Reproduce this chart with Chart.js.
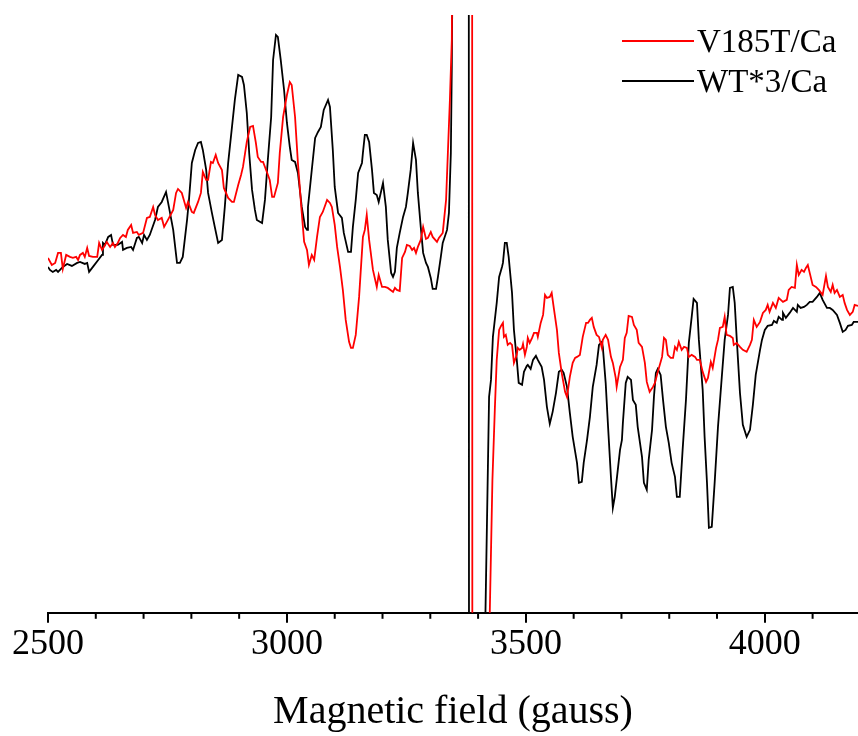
<!DOCTYPE html>
<html>
<head>
<meta charset="utf-8">
<script src="https://cdn.jsdelivr.net/npm/chart.js@4"></script>
<style>
  body { margin: 0; background: #fff; }
  #wrap { width: 858px; height: 736px; }
</style>
</head>
<body>
<div id="wrap"><canvas id="chart"></canvas></div>
<script>
// EPR spectra, field in gauss, signal in arbitrary units
const fieldV185T = [
  2500,2508,2515,2521,2527,2531,2538,2546,2552,2559,
  2563,2567,2573,2577,2582,2586,2594,2603,2607,2613,
  2617,2623,2630,2636,2640,2646,2651,2657,2663,2667,
  2674,2678,2686,2690,2699,2707,2713,2720,2724,2730,
  2738,2743,2751,2762,2768,2772,2780,2789,2793,2801,
  2805,2814,2820,2824,2831,2835,2841,2845,2851,2856,
  2864,2868,2877,2885,2889,2898,2904,2908,2916,2923,
  2929,2935,2939,2946,2950,2958,2964,2969,2973,2981,
  2985,2992,3000,3006,3010,3017,3023,3031,3036,3042,
  3046,3052,3057,3063,3069,3075,3084,3090,3094,3100,
  3105,3111,3117,3123,3130,3134,3138,3144,3151,3159,
  3163,3167,3172,3180,3188,3192,3199,3205,3211,3222,
  3226,3230,3236,3241,3247,3251,3257,3262,3266,3270,
  3274,3280,3285,3291,3295,3301,3305,3314,3318,3326,
  3333,3337,3341,3345,3348,3365,3387,3388.5,3405,3410,
  3430,3435,3439,3444,3448,3452,3454,3458,3462,3467,
  3471,3475,3481,3483,3487,3492,3494,3498,3502,3504,
  3508,3513,3517,3523,3525,3531,3536,3540,3544,3550,
  3554,3559,3565,3569,3575,3582,3586,3592,3598,3603,
  3607,3613,3619,3626,3630,3634,3638,3642,3648,3653,
  3659,3661,3667,3672,3678,3682,3688,3690,3697,3703,
  3707,3711,3715,3722,3726,3732,3736,3743,3749,3753,
  3759,3766,3770,3776,3785,3789,3793,3797,3803,3808,
  3812,3816,3820,3826,3831,3837,3841,3847,3854,3858,
  3864,3870,3877,3881,3887,3891,3898,3902,3906,3912,
  3916,3920,3927,3933,3935,3941,3948,3954,3962,3969,
  3973,3977,3983,3990,3996,4002,4006,4010,4017,4023,
  4029,4038,4046,4050,4056,4063,4067,4071,4077,4082,
  4086,4090,4096,4100,4107,4113,4121,4128,4132,4138,
  4142,4146,4151,4157,4163,4167,4172,4178,4184,4188,
  4195
];
const signalV185T = [
  2,-5,-3,7,7,-9,5,3,2,3,
  0,5,7,3,12,4,3,3,17,10,
  13,18,13,17,13,17,22,25,23,30,
  35,27,28,25,27,42,43,53,45,40,
  42,33,40,50,67,71,67,52,58,48,
  47,58,67,88,80,80,98,97,105,97,
  90,72,62,58,58,75,85,93,118,133,
  134,117,103,98,98,88,80,63,63,77,
  107,143,165,178,175,143,97,47,18,10,
  -5,5,0,23,43,48,60,57,53,35,
  13,-7,-30,-60,-82,-88,-88,-75,-37,23,
  30,45,20,-10,-27,-15,-27,-27,-28,-32,
  -28,-30,-31,2,8,15,14,10,12,7,
  13,20,33,21,22,28,23,18,22,27,
  60,110,160,220,450,1500,1200,-1200,-1500,-700,
  -220,-150,-100,-70,-66,-63,-77,-75,-85,-83,
  -85,-103,-95,-88,-90,-88,-84,-95,-87,-78,
  -83,-78,-73,-73,-77,-63,-55,-35,-38,-37,
  -33,-50,-70,-93,-113,-132,-137,-117,-103,-98,
  -97,-95,-77,-63,-63,-60,-58,-67,-75,-77,
  -88,-80,-75,-80,-97,-103,-118,-127,-107,-100,
  -78,-73,-56,-57,-65,-70,-83,-87,-103,-122,
  -132,-127,-123,-112,-97,-78,-80,-95,-98,-98,
  -87,-90,-82,-90,-87,-88,-97,-95,-97,-100,
  -100,-112,-122,-118,-102,-108,-88,-80,-68,-67,
  -57,-75,-76,-78,-85,-83,-87,-90,-92,-85,
  -80,-60,-67,-62,-53,-50,-45,-52,-43,-48,
  -38,-42,-40,-30,-27,-28,-5,-15,-10,-12,
  -8,-5,-17,-25,-27,-30,-35,-16,-27,-32,
  -25,-33,-30,-37,-35,-43,-50,-55,-52,-45,
  -46
];
const fieldWT = [
  2500,2504,2510,2517,2521,2531,2540,2550,2561,2567,
  2577,2582,2586,2594,2605,2613,2615,2619,2626,2632,
  2636,2646,2655,2657,2665,2674,2678,2686,2690,2697,
  2701,2707,2713,2724,2730,2738,2747,2753,2762,2770,
  2776,2782,2791,2795,2801,2808,2814,2820,2824,2831,
  2835,2843,2849,2856,2864,2870,2877,2885,2891,2898,
  2906,2910,2916,2921,2927,2933,2937,2948,2954,2960,
  2967,2971,2977,2981,2987,2994,3000,3006,3010,3017,
  3023,3031,3038,3042,3044,3052,3059,3065,3071,3077,
  3086,3090,3096,3100,3107,3115,3119,3128,3134,3138,
  3144,3149,3157,3159,3163,3167,3172,3178,3182,3188,
  3192,3201,3207,3211,3218,3222,3226,3230,3236,3243,
  3249,3253,3259,3264,3270,3274,3280,3285,3291,3295,
  3301,3305,3312,3316,3322,3326,3335,3339,3343,3345,
  3348,3360,3380,3381.5,3400,3405,3423,3427,3431,3439,
  3444,3450,3452,3456,3460,3464,3471,3475,3481,3485,
  3492,3496,3502,3504,3510,3515,3521,3525,3533,3538,
  3544,3550,3556,3563,3569,3575,3579,3586,3592,3598,
  3607,3611,3617,3621,3628,3634,3640,3648,3653,3659,
  3661,3667,3672,3678,3682,3686,3690,3697,3701,3703,
  3709,3713,3720,3724,3730,3734,3743,3747,3753,3757,
  3764,3768,3772,3776,3782,3787,3793,3799,3805,3812,
  3816,3822,3828,3835,3841,3847,3851,3858,3862,3870,
  3874,3879,3883,3889,3895,3902,3910,3916,3923,3927,
  3933,3937,3941,3948,3954,3962,3969,3975,3981,3990,
  3994,4000,4006,4015,4019,4025,4029,4036,4038,4044,
  4052,4059,4067,4069,4075,4082,4088,4094,4100,4109,
  4115,4121,4130,4136,4142,4151,4157,4163,4169,4174,
  4182,4186,4195
];
const signalWT = [
  -7,-10,-12,-10,-12,-7,-4,-6,-3,-2,
  -4,-3,-12,-7,0,5,17,15,23,25,
  15,15,18,10,12,13,10,22,23,17,
  25,20,25,40,53,58,68,53,30,-3,
  -3,3,40,60,97,110,117,118,110,90,
  67,47,33,17,20,53,97,133,160,185,
  183,175,147,107,70,50,40,37,60,100,
  143,200,225,223,200,170,137,113,100,98,
  87,53,33,30,53,90,122,128,133,150,
  160,153,110,73,47,42,27,8,8,33,
  60,87,97,107,125,125,118,90,67,65,
  58,77,53,20,-13,-17,-12,12,27,43,
  53,67,90,117,100,67,33,7,-3,-7,
  -18,-29,-29,-17,3,17,30,47,107,193,
  400,1500,1200,-1200,-1500,-650,-137,-120,-77,-43,
  -17,-7,-3,17,17,3,-33,-70,-100,-123,
  -125,-112,-106,-105,-109,-100,-96,-100,-107,-120,
  -147,-164,-152,-133,-112,-110,-113,-127,-153,-177,
  -203,-223,-222,-203,-180,-157,-127,-105,-85,-82,
  -87,-123,-167,-217,-248,-237,-220,-190,-180,-163,
  -123,-117,-120,-140,-145,-167,-197,-223,-230,-200,
  -170,-137,-113,-109,-115,-140,-167,-183,-203,-217,
  -237,-237,-190,-140,-83,-57,-39,-43,-80,-130,
  -177,-223,-268,-267,-223,-167,-117,-80,-55,-28,
  -27,-43,-77,-133,-165,-177,-170,-145,-115,-90,
  -80,-70,-66,-65,-61,-63,-57,-60,-53,-58,
  -53,-48,-52,-45,-48,-47,-45,-42,-42,-37,
  -33,-40,-48,-48,-50,-55,-63,-72,-70,-66,
  -65,-62,-62
];
const majorTicks = [2500, 3000, 3500, 4000];
const minorTicks = [2600, 2700, 2800, 2900, 3100, 3200, 3300, 3400, 3600, 3700, 3800, 3900, 4100];

const serif = '"Liberation Serif", "Times New Roman", serif';
Chart.defaults.font.family = serif;
Chart.defaults.color = '#000';

function toPoints(xs, ys) {
    return xs.map((x, i) => ({ x: x, y: ys[i] }));
}

// short ticks between the labelled ones
const minorTickPlugin = {
    id: 'minorTicks',
    afterDraw(chart) {
        const scale = chart.scales.x;
        const ctx = chart.ctx;
        ctx.save();
        ctx.strokeStyle = '#000';
        ctx.lineWidth = 2;
        minorTicks.forEach((v) => {
            const px = scale.getPixelForValue(v);
            ctx.beginPath();
            ctx.moveTo(px, scale.top);
            ctx.lineTo(px, scale.top + 6);
            ctx.stroke();
        });
        ctx.restore();
    },
};

// legend drawn as line samples in the top right corner
const lineLegendPlugin = {
    id: 'lineLegend',
    afterDraw(chart) {
        const ctx = chart.ctx;
        const right = chart.chartArea.right;
        ctx.save();
        ctx.font = '33px ' + serif;
        ctx.textBaseline = 'middle';
        chart.data.datasets.forEach((ds, i) => {
            const y = 41 + i * 40;
            ctx.strokeStyle = ds.borderColor;
            ctx.lineWidth = 1.8;
            ctx.beginPath();
            ctx.moveTo(right - 236, y);
            ctx.lineTo(right - 164, y);
            ctx.stroke();
            ctx.fillStyle = '#000';
            ctx.fillText(ds.label, right - 161, y + 2);
        });
        ctx.restore();
    },
};

new Chart(document.getElementById('chart'), {
    type: 'line',
    data: {
        datasets: [
            {
                label: 'V185T/Ca',
                data: toPoints(fieldV185T, signalV185T),
                borderColor: '#ff0000',
                borderWidth: 1.8,
                pointRadius: 0,
                fill: false,
            },
            {
                label: 'WT*3/Ca',
                data: toPoints(fieldWT, signalWT),
                borderColor: '#000000',
                borderWidth: 1.8,
                pointRadius: 0,
                fill: false,
            },
        ],
    },
    options: {
        responsive: true,
        maintainAspectRatio: false,
        animation: false,
        layout: { padding: { top: 15, left: 48, right: 0, bottom: 0 } },
        plugins: {
            legend: { display: false },
            tooltip: { enabled: false },
        },
        scales: {
            x: {
                type: 'linear',
                min: 2500,
                max: 4195,
                afterBuildTicks: (axis) => {
                    axis.ticks = majorTicks.map((v) => ({ value: v }));
                },
                ticks: {
                    font: { size: 36 },
                    padding: 0,
                    maxRotation: 0,
                    callback: (v) => String(v),
                },
                grid: {
                    drawOnChartArea: false,
                    drawTicks: true,
                    tickLength: 10,
                    color: '#000',
                    lineWidth: 2,
                },
                border: { display: true, color: '#000', width: 2 },
                title: {
                    display: true,
                    text: 'Magnetic field (gauss)',
                    font: { size: 40 },
                    padding: { top: 22, bottom: 0 },
                },
            },
            y: {
                type: 'linear',
                display: false,
                min: -353,
                max: 245,
            },
        },
    },
    plugins: [minorTickPlugin, lineLegendPlugin],
});
</script>
</body>
</html>
